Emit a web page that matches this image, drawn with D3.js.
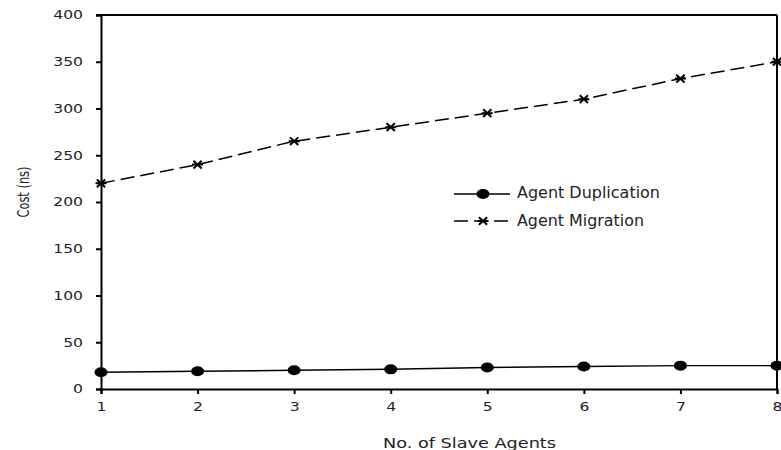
<!DOCTYPE html>
<html><head><meta charset="utf-8">
<script src="https://cdn.jsdelivr.net/npm/d3@7"></script>
<style>body{margin:0;background:#fff}text{font-family:"DejaVu Sans",sans-serif;fill:#222}</style>
</head><body><svg id="c" width="781" height="450"></svg>
<script>
const agents = [1,2,3,4,5,6,7,8];
const duplication = [18,19,20,21,23,24,25,25];
const migration = [220,240,265,280,295,310,332,350];
const yTicks = [0,50,100,150,200,250,300,350,400];
const seriesNames = ["Agent Duplication","Agent Migration"];

const K = 1.27, FS = 12.3;
const svg = d3.select("#c");
const L=101,R=777,T=15,B=389;
const x = d3.scaleLinear().domain([1,8]).range([L,R]);
const y = d3.scaleLinear().domain([0,400]).range([B,T]);

function stretch(sel){
  sel.each(function(){
    const t=d3.select(this);
    const ox=+t.attr("x")||0;
    t.attr("x",ox/K).attr("transform",`scale(${K},1)`).attr("font-size",FS).attr("fill","#222")
     .attr("font-family",'"DejaVu Sans",sans-serif');
  });
}

svg.append("g").attr("transform",`translate(${L},0)`)
  .call(d3.axisLeft(y).tickValues(yTicks).tickSize(5).tickPadding(13))
  .call(g=>{g.select(".domain").attr("stroke","#000").attr("stroke-width",2);
    g.selectAll("line").attr("stroke","#000").attr("stroke-width",2);
    stretch(g.selectAll("text"));});
svg.append("g").attr("transform",`translate(0,${B})`)
  .call(d3.axisBottom(x).tickValues(agents).tickSize(5).tickPadding(8).tickFormat(d3.format("d")))
  .call(g=>{g.select(".domain").attr("stroke","#000").attr("stroke-width",2);
    g.selectAll("line").attr("stroke","#000").attr("stroke-width",2);
    stretch(g.selectAll("text"));});
// top & right border
svg.append("line").attr("x1",L-5).attr("x2",R).attr("y1",T).attr("y2",T).attr("stroke","#000").attr("stroke-width",2);
svg.append("line").attr("x1",R).attr("x2",R).attr("y1",T).attr("y2",B).attr("stroke","#000").attr("stroke-width",2);

const line = d3.line().x((d,i)=>x(agents[i])).y(d=>y(d));
svg.append("path").datum(duplication).attr("d",line).attr("fill","none").attr("stroke","#000").attr("stroke-width",1.5);
svg.append("path").datum(migration).attr("d",line).attr("fill","none").attr("stroke","#000").attr("stroke-width",1.5).attr("stroke-dasharray","14,6");

function star(g,cx,cy){
  const s=5.5;
  g.append("path").attr("d",`M${cx-s},${cy}L${cx+s},${cy}M${cx-s*0.75},${cy-s*0.7}L${cx+s*0.75},${cy+s*0.7}M${cx-s*0.75},${cy+s*0.7}L${cx+s*0.75},${cy-s*0.7}`)
   .attr("stroke","#000").attr("stroke-width",2).attr("fill","none");
}
svg.selectAll("ellipse.d").data(duplication).enter().append("ellipse")
  .attr("cx",(d,i)=>x(agents[i])).attr("cy",d=>y(d)).attr("rx",6.5).attr("ry",5).attr("fill","#000");
const sg = svg.append("g");
migration.forEach((d,i)=>star(sg,x(agents[i]),y(d)));

// legend
const lg = svg.append("g");
lg.append("line").attr("x1",454).attr("x2",510).attr("y1",194).attr("y2",194).attr("stroke","#000").attr("stroke-width",1.5);
lg.append("ellipse").attr("cx",483).attr("cy",194).attr("rx",6.5).attr("ry",5).attr("fill","#000");
lg.append("line").attr("x1",454).attr("x2",510).attr("y1",221).attr("y2",221).attr("stroke","#000").attr("stroke-width",1.5).attr("stroke-dasharray","14,6");
star(lg,483,221);
lg.append("text").attr("x",517).attr("y",198).attr("font-size",15).attr("textLength",143).attr("lengthAdjust","spacingAndGlyphs").text(seriesNames[0]);
lg.append("text").attr("x",517).attr("y",226).attr("font-size",15).attr("textLength",127).attr("lengthAdjust","spacingAndGlyphs").text(seriesNames[1]);

svg.append("g").attr("transform",`translate(29,192) scale(1.2,1) rotate(-90)`).append("text")
  .attr("x",-25.5).attr("font-size",13).attr("textLength",51).attr("lengthAdjust","spacingAndGlyphs").text("Cost (ns)");
svg.append("text").attr("x",383).attr("y",448).attr("font-size",14.5).attr("textLength",173).attr("lengthAdjust","spacingAndGlyphs").text("No. of Slave Agents");
</script></body></html>
